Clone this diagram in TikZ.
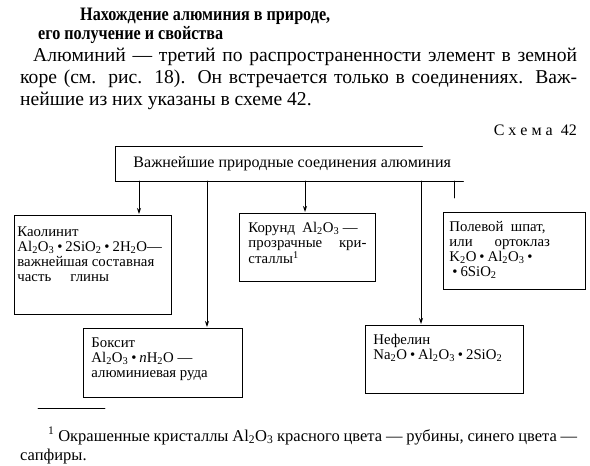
\documentclass[tikz,border=0pt]{standalone}
\usepackage{fontspec}
\setmainfont{Liberation Serif}
\newfontfamily\headfont[FakeStretch=0.85]{Liberation Serif}
\usetikzlibrary{arrows.meta}

\newcommand{\low}[1]{\textsubscript{#1}}
\newcommand{\bul}{\hspace{0.2em}•\hspace{0.2em}}
\newcommand{\mtext}[3]{\parbox[t][#2][t]{#1}{\raggedright #3}}

\tikzset{
  mineral/.style={draw, line width=0.9pt, anchor=north west, inner xsep=8pt, inner ysep=9pt,
    font=\fontsize{14.8}{15}\selectfont},
  link/.style={line width=0.9pt},
  arr/.style={link, -{Stealth[length=6pt,width=4pt]}, shorten >=1pt}
}

\begin{document}
\begin{tikzpicture}[x=1pt, y=-1pt, line cap=round]
  \useasboundingbox[fill=white] (0,0) rectangle (590,466);
  % ---------- heading and text ----------
  \node[anchor=base west, inner sep=0pt, font=\fontsize{19}{20}\headfont\bfseries] (head1) at (80,20)
    {Нахождение алюминия в природе,};
  \node[anchor=base west, inner sep=0pt, font=\fontsize{19}{20}\headfont\bfseries] (head2) at (38,39)
    {его получение и свойства};
  \node[anchor=base west, inner sep=0pt, text width=557pt, align=justify,
        font=\fontsize{19.6}{22}\selectfont] (body) at (20,61)
    {\hspace*{13pt}Алюминий — третий по распространенности элемент в земной\linebreak
     коре (см. рис. 18). Он встречается только в соединениях. Важ-\linebreak
     нейшие из них указаны в схеме 42.};
  \node[anchor=base east, inner sep=0pt, font=\fontsize{16}{18}\selectfont] (scheme) at (577,135)
    {С х е м а \ 42};
  % ---------- 1. root box ----------
  \node[anchor=north west, minimum width=348pt, minimum height=35pt, inner sep=0pt,
        font=\fontsize{16}{18}\selectfont] (root) at (115,146)
    {\hspace*{6pt}Важнейшие природные соединения алюминия};
  \draw[link] ([xshift=-41pt]root.north east) -- (root.north west) -- (root.south west)
    -- (root.south east);
  % ---------- 2. minerals ----------
  \node[mineral, inner xsep=3pt, inner ysep=11pt] (kaol) at (14,215)
    {\mtext{151pt}{77pt}{Каолинит\\
     Al\low{2}O\low{3}\bul 2SiO\low{2}\bul 2H\low{2}O—\\
     важнейшая составная\\
     часть\hspace{1.3em}глины}};
  \node[mineral, inner xsep=9pt] (kor) at (239,213)
    {\mtext{118pt}{50pt}{Корунд\ \ Al\low{2}O\low{3} —\\
     прозрачные\hfill кри-\\
     сталлы\textsuperscript{1}}};
  \node[mineral, inner xsep=6pt] (feld) at (443,212)
    {\mtext{130pt}{59pt}{Полевой\ \ шпат,\\
     или\hspace{22pt}ортоклаз\\
     K\low{2}O\bul Al\low{2}O\low{3}\bul\\
     \bul 6SiO\low{2}}};
  \node[mineral] (boks) at (83,328)
    {\mtext{143pt}{51pt}{Боксит\\
     Al\low{2}O\low{3}\bul \textit{n}H\low{2}O —\\
     алюминиевая руда}};
  \node[mineral] (nef) at (365,325)
    {\mtext{142pt}{50pt}{Нефелин\\
     Na\low{2}O\bul Al\low{2}O\low{3}\bul 2SiO\low{2}}};
  % ---------- 3. links from the root line ----------
  \coordinate (rk) at (139,181);
  \coordinate (rb) at (207,181);
  \coordinate (rc) at (305,181);
  \coordinate (rn) at (421,181);
  \coordinate (rf) at (454,181);
  \draw[arr] (rk) -- (rk |- kaol.north);
  \draw[arr] (rb) -- (rb |- boks.north);
  \draw[arr] (rc) -- (rc |- kor.north);
  \draw[arr] (rn) -- (rn |- nef.north);
  \draw[link, shorten >=14pt] (rf) -- (rf |- feld.north);
  % ---------- 4. footnote ----------
  \draw[line width=0.7pt] (38,408) coordinate (rule) -- (105,408) coordinate (rule-end);
  \node[anchor=base west, inner sep=0pt, text width=557pt, align=justify,
        font=\fontsize{16.5}{19}\selectfont] (note) at (20,441)
    {\hspace*{28pt}\textsuperscript{1} Окрашенные кристаллы Al\low{2}O\low{3} красного цвета — рубины, синего цвета —\linebreak
     сапфиры.};
\end{tikzpicture}
\end{document}
